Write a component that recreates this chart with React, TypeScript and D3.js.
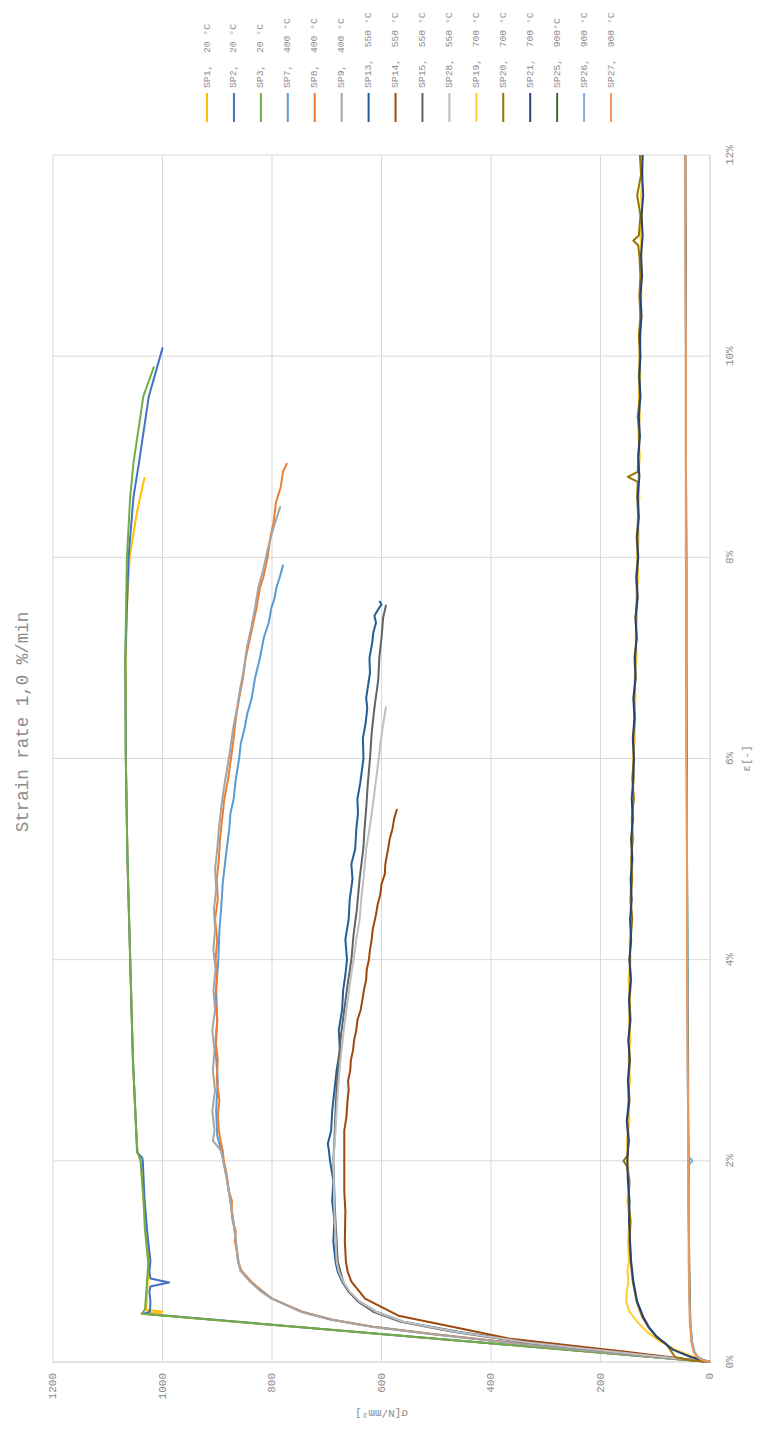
import React from "react";
import * as d3 from "d3";

// Strain [%] / stress [N/mm²] pairs for each specimen
const sp1: [number, number][] = [[0,0],[0.48,1038],[0.49,1003],[0.5,1000],[0.52,1030],[0.7,1028],[1.0,1025],[1.3,1030],[1.64,1035],[2.0,1040],[2.1,1047],[2.3,1048],[3,1054],[4,1059],[5,1064],[6,1067],[7,1067],[7.5,1065],[8,1060],[8.44,1047],[8.79,1033]];
const sp2: [number, number][] = [[0,0],[0.48,1035],[0.5,1023],[0.6,1022],[0.7,1024],[0.75,1022],[0.79,988],[0.83,1022],[0.9,1024],[1.0,1022],[1.3,1028],[1.64,1033],[2.0,1036],[2.03,1037],[2.08,1046],[2.3,1048],[3,1054],[4,1059],[5,1064],[6,1067],[7,1068],[8,1062],[8.6,1053],[8.94,1043],[9.6,1025],[10.08,1000]];
const sp3: [number, number][] = [[0,0],[0.48,1038],[0.52,1032],[0.98,1026],[1.31,1032],[1.64,1035],[2.0,1040],[2.1,1046],[2.3,1048],[3,1054],[4,1059],[5,1064],[6,1067],[7,1068],[8,1065],[8.6,1059],[8.94,1053],[9.6,1035],[9.89,1016]];

const sp7: [number, number][] = [[0,0],[0.1,190],[0.2,375],[0.28,512],[0.35,616],[0.42,690],[0.5,746],[0.63,800],[0.8,840],[0.91,857],[1.0,862],[1.3,868],[1.6,876],[1.9,885],[2.1,893],[2.25,900],[2.5,902],[2.8,899],[3.1,903],[3.4,900],[3.7,902],[4.0,898],[4.3,896],[4.5,893],[4.76,890],[4.9,887],[5.09,883],[5.3,878],[5.45,876],[5.6,870],[5.8,866],[6.0,860],[6.15,857],[6.3,850],[6.45,845],[6.6,837],[6.8,831],[7.0,822],[7.2,815],[7.35,806],[7.5,801],[7.6,795],[7.7,792],[7.8,786],[7.92,780]];
const sp8: [number, number][] = [[0,0],[0.1,190],[0.2,375],[0.28,510],[0.35,615],[0.42,690],[0.5,745],[0.63,800],[0.7,818],[0.8,838],[0.91,856],[1.0,862],[1.1,864],[1.2,868],[1.3,866],[1.4,872],[1.5,874],[1.6,873],[1.7,879],[1.8,881],[1.9,884],[2.0,888],[2.1,890],[2.2,894],[2.3,897],[2.45,899],[2.6,896],[2.8,901],[3.0,899],[3.2,903],[3.4,900],[3.6,904],[3.8,901],[4.0,903],[4.2,900],[4.4,904],[4.6,899],[4.8,901],[5.0,897],[5.2,895],[5.4,891],[5.6,887],[5.8,880],[6.0,875],[6.2,870],[6.4,866],[6.6,860],[6.8,853],[7.0,848],[7.2,840],[7.35,834],[7.5,828],[7.7,822],[7.8,816],[8.0,808],[8.2,803],[8.35,797],[8.54,793],[8.7,784],[8.85,780],[8.93,773]];
const sp9: [number, number][] = [[0,0],[0.1,195],[0.2,380],[0.28,515],[0.35,618],[0.42,692],[0.5,748],[0.63,800],[0.7,820],[0.8,840],[0.91,858],[1.0,861],[1.2,866],[1.4,871],[1.6,876],[1.8,882],[2.0,889],[2.1,893],[2.2,908],[2.3,905],[2.5,909],[2.7,904],[2.9,908],[3.1,905],[3.3,909],[3.5,904],[3.7,907],[3.9,903],[4.1,907],[4.3,904],[4.5,906],[4.7,902],[4.9,904],[5.1,900],[5.3,897],[5.5,893],[5.7,888],[5.9,882],[6.1,876],[6.3,871],[6.5,864],[6.7,858],[6.9,851],[7.1,846],[7.3,838],[7.5,831],[7.7,825],[7.9,815],[8.1,807],[8.3,797],[8.5,785]];

const sp13: [number, number][] = [[0,0],[0.1,165],[0.2,335],[0.3,460],[0.4,560],[0.5,610],[0.6,640],[0.7,660],[0.8,672],[0.9,680],[1.0,684],[1.2,688],[1.4,686],[1.6,690],[1.8,688],[1.9,691],[2.0,694],[2.1,696],[2.17,698],[2.3,692],[2.5,690],[2.7,686],[2.9,682],[3.1,676],[3.3,678],[3.5,672],[3.7,670],[3.85,666],[4.0,663],[4.2,666],[4.4,660],[4.6,658],[4.8,653],[4.95,655],[5.1,648],[5.3,646],[5.45,643],[5.6,644],[5.75,639],[6.0,633],[6.2,634],[6.35,629],[6.5,626],[6.6,628],[6.85,621],[7.0,622],[7.15,617],[7.25,615],[7.35,610],[7.42,613],[7.5,604],[7.53,600],[7.56,603]];
const sp14: [number, number][] = [[0,0],[0.1,150],[0.23,364],[0.33,453],[0.46,569],[0.63,630],[0.8,655],[0.9,662],[1.0,665],[1.2,667],[1.5,666],[1.7,668],[2.0,668],[2.3,668],[2.44,664],[2.6,662],[2.7,660],[2.8,661],[2.9,657],[3.0,656],[3.1,652],[3.2,650],[3.3,646],[3.4,644],[3.5,638],[3.63,634],[3.7,632],[3.8,628],[3.9,627],[4.0,623],[4.1,621],[4.2,618],[4.3,616],[4.45,610],[4.55,607],[4.65,602],[4.75,600],[4.85,594],[4.95,593],[5.1,588],[5.2,585],[5.3,580],[5.4,577],[5.49,572]];
const sp15: [number, number][] = [[0,0],[0.1,175],[0.2,345],[0.3,470],[0.4,565],[0.5,615],[0.6,643],[0.7,660],[0.8,670],[1.0,680],[1.5,685],[2.0,688],[2.2,686],[2.5,684],[2.8,681],[3.0,678],[3.25,674],[3.5,668],[3.75,662],[4.0,655],[4.25,651],[4.5,645],[4.8,640],[5.12,633],[5.3,631],[5.5,628],[5.75,625],[6.0,621],[6.25,618],[6.5,613],[6.78,606],[7.0,604],[7.2,600],[7.4,597],[7.52,592]];
const sp28: [number, number][] = [[0,0],[0.1,172],[0.2,340],[0.3,465],[0.4,560],[0.5,610],[0.6,640],[0.7,658],[0.8,670],[0.9,678],[1.0,682],[1.5,686],[2.0,688],[2.2,685],[2.5,682],[2.75,679],[3.0,675],[3.25,670],[3.5,664],[3.75,658],[4.0,651],[4.2,646],[4.4,640],[4.6,637],[4.8,633],[5.1,628],[5.3,622],[5.45,618],[5.7,612],[6.0,605],[6.15,602],[6.3,598],[6.51,592]];

const sp19: [number, number][] = [[0,0],[0.05,30],[0.12,62],[0.2,90],[0.3,115],[0.4,133],[0.5,147],[0.6,153],[0.7,152],[0.8,149],[0.9,151],[1.0,148],[1.2,150],[1.4,147],[1.6,151],[1.8,148],[2.0,150],[2.2,152],[2.4,147],[2.6,150],[2.8,146],[3.0,149],[3.2,145],[3.4,148],[3.6,146],[3.8,149],[4.0,145],[4.2,147],[4.4,143],[4.6,146],[4.8,144],[5.0,141],[5.2,144],[5.4,140],[5.6,142],[5.8,139],[6.0,141],[6.2,137],[6.4,139],[6.6,136],[6.8,138],[7.0,134],[7.2,136],[7.4,133],[7.6,135],[7.8,131],[8.0,133],[8.2,130],[8.4,132],[8.6,129],[8.8,131],[9.0,128],[9.2,131],[9.4,128],[9.6,130],[9.8,127],[10.0,129],[10.2,126],[10.4,128],[10.6,125],[10.8,127],[11.0,125],[11.2,127],[11.4,124],[11.6,126],[11.8,123],[12.0,125]];
const sp20: [number, number][] = [[0,0],[0.02,40],[0.05,64],[0.1,70],[0.18,80],[0.25,98],[0.35,113],[0.45,124],[0.6,134],[0.8,141],[1.0,145],[1.2,147],[1.4,145],[1.6,149],[1.8,147],[1.95,152],[2.0,158],[2.05,151],[2.2,148],[2.4,151],[2.6,147],[2.8,149],[3.0,146],[3.2,149],[3.4,145],[3.6,147],[3.8,144],[4.0,147],[4.2,145],[4.4,142],[4.6,145],[4.8,142],[5.0,144],[5.2,141],[5.4,143],[5.6,139],[5.8,142],[6.0,139],[6.2,140],[6.4,137],[6.6,139],[6.8,136],[7.0,138],[7.2,134],[7.4,136],[7.6,133],[7.8,135],[8.0,132],[8.2,134],[8.4,131],[8.6,133],[8.75,132],[8.8,150],[8.85,132],[9.0,131],[9.2,129],[9.4,132],[9.6,128],[9.8,130],[10.0,128],[10.2,130],[10.4,127],[10.6,129],[10.8,127],[11.0,129],[11.1,131],[11.15,140],[11.2,130],[11.4,127],[11.6,133],[11.8,126],[12.0,128]];
const sp21: [number, number][] = [[0,0],[0.05,35],[0.12,67],[0.25,97],[0.35,112],[0.45,122],[0.6,133],[0.8,140],[1.0,144],[1.2,146],[1.4,148],[1.6,147],[1.8,150],[2.0,151],[2.2,149],[2.4,152],[2.6,148],[2.8,150],[3.0,147],[3.2,149],[3.4,146],[3.6,148],[3.8,145],[4.0,147],[4.2,144],[4.4,146],[4.6,143],[4.8,145],[5.0,142],[5.2,144],[5.4,141],[5.6,143],[5.8,140],[6.0,139],[6.2,141],[6.4,138],[6.6,140],[6.8,136],[7.0,137],[7.2,134],[7.4,136],[7.6,132],[7.8,134],[8.0,131],[8.2,133],[8.4,130],[8.6,132],[8.8,129],[9.0,131],[9.2,128],[9.4,130],[9.6,127],[9.8,129],[10.0,127],[10.2,128],[10.4,125],[10.6,127],[10.8,124],[11.0,126],[11.2,123],[11.4,125],[11.6,122],[11.8,124],[12.0,123]];

const sp25: [number, number][] = [[0,0],[0.02,14],[0.05,23],[0.1,29],[0.2,33],[0.4,36],[0.7,37],[1.0,38],[1.5,39],[2.0,39],[2.5,40],[3.0,40],[4.0,41],[5.0,42],[6.0,42],[7.0,43],[8.0,43],[9.0,44],[10.0,44],[11.0,44],[12.0,45]];
const sp26: [number, number][] = [[0,0],[0.02,12],[0.05,22],[0.1,28],[0.2,33],[0.4,36],[0.7,38],[1.0,38],[1.5,39],[1.95,40],[2.0,32],[2.05,40],[2.5,40],[3.0,41],[4.0,41],[5.0,42],[6.0,43],[7.0,43],[8.0,44],[9.0,44],[10.0,44],[11.0,45],[12.0,45]];
const sp27: [number, number][] = [[0,0],[0.02,15],[0.05,24],[0.1,30],[0.2,34],[0.4,37],[0.7,38],[1.0,39],[1.5,39],[2.0,40],[2.5,40],[3.0,41],[4.0,42],[5.0,42],[6.0,43],[7.0,43],[8.0,44],[9.0,44],[10.0,44],[11.0,45],[12.0,45]];

const seriesNames = ["SP1,  20 °C","SP2,  20 °C","SP3,  20 °C","SP7,  400 °C","SP8,  400 °C","SP9,  400 °C","SP13,  550 °C","SP14,  550 °C","SP15,  550 °C","SP28,  550 °C","SP19,  700 °C","SP20,  700 °C","SP21,  700 °C","SP25,  900°C","SP26,  900 °C","SP27,  900 °C"];
const seriesData = [sp1, sp2, sp3, sp7, sp8, sp9, sp13, sp14, sp15, sp28, sp19, sp20, sp21, sp25, sp26, sp27];
const seriesColors = ["#FFC000","#4472C4","#70AD47","#5B9BD5","#ED7D31","#A5A5A5","#255E91","#9E480E","#636363","#BFBFBF","#FFCD33","#997300","#264478","#43682B","#7CAFDD","#F1975A"];

const strainTicks = [0, 2, 4, 6, 8, 10, 12];
const stressTicks = [0, 200, 400, 600, 800, 1000, 1200];

const W = 762;
const H = 1429;
const FONT = "'Liberation Mono', 'DejaVu Sans Mono', monospace";
const TEXT = "#8c8c8c";

export default function App() {
  // The chart is laid out in a landscape frame (H wide, W tall) and turned a quarter turn.
  const x = d3.scaleLinear().domain([0, 12]).range([67, 1274]);
  const y = d3.scaleLinear().domain([0, 1200]).range([710, 53]);
  const line = d3.line<[number, number]>().x((d) => x(d[0])).y((d) => y(d[1]));

  const legendV = d3.scalePoint<number>().domain(d3.range(seriesNames.length)).range([207, 611]);

  return (
    <svg width={W} height={H} style={{ position: "absolute", left: 0, top: 0, background: "#fff" }}>
      <rect width={W} height={H} fill="#fff" />
      <g transform={`translate(0,${H}) rotate(-90)`} fontFamily={FONT}>
        {strainTicks.slice(1).map((t) => (
          <line key={"gx" + t} x1={x(t)} x2={x(t)} y1={y(0)} y2={y(1200)} stroke="#d9d9d9" strokeWidth={1} />
        ))}
        {stressTicks.slice(1).map((t) => (
          <line key={"gy" + t} x1={x(0)} x2={x(12)} y1={y(t)} y2={y(t)} stroke="#d9d9d9" strokeWidth={1} />
        ))}
        <line x1={x(0)} x2={x(12)} y1={y(0)} y2={y(0)} stroke="#c6c6c6" strokeWidth={1} />
        <line x1={x(0)} x2={x(0)} y1={y(0)} y2={y(1200)} stroke="#c6c6c6" strokeWidth={1} />

        <defs>
          <clipPath id="plotClip">
            <rect x={x(0) - 2} y={y(1200)} width={x(12) - x(0) + 2} height={y(0) - y(1200) + 2} />
          </clipPath>
        </defs>
        <g clipPath="url(#plotClip)">
          {seriesData.map((d, i) => (
            <path key={seriesNames[i]} d={line(d) ?? ""} fill="none" stroke={seriesColors[i]} strokeWidth={2}
              strokeLinejoin="round" strokeLinecap="round" />
          ))}
        </g>

        {strainTicks.map((t) => (
          <text key={"tx" + t} x={x(t)} y={733} textAnchor="middle" fontSize={11} fill={TEXT}>{`${t}%`}</text>
        ))}
        {stressTicks.map((t) => (
          <text key={"ty" + t} x={56} y={y(t)} textAnchor="end" dominantBaseline="central" fontSize={11} fill={TEXT}>{t}</text>
        ))}

        <text x={(x(0) + x(12)) / 2} y={750} textAnchor="middle" fontSize={11} fill={TEXT}>ε[-]</text>
        <text transform={`translate(19,${(y(0) + y(1200)) / 2}) rotate(-90)`} textAnchor="middle" fontSize={11} fill={TEXT}>σ[N/mm²]</text>

        <text x={707} y={28} textAnchor="middle" fontSize={17.5} fill={TEXT} style={{ whiteSpace: "pre" }}>Strain rate 1,0 %/min</text>

        {seriesNames.map((name, i) => (
          <g key={"lg" + i} transform={`translate(0,${legendV(i)})`}>
            <line x1={1307} x2={1336} y1={0} y2={0} stroke={seriesColors[i]} strokeWidth={2} />
            <text x={1341} y={0} dominantBaseline="central" fontSize={9.7} fill={TEXT} style={{ whiteSpace: "pre" }}>{name}</text>
          </g>
        ))}
      </g>
    </svg>
  );
}
